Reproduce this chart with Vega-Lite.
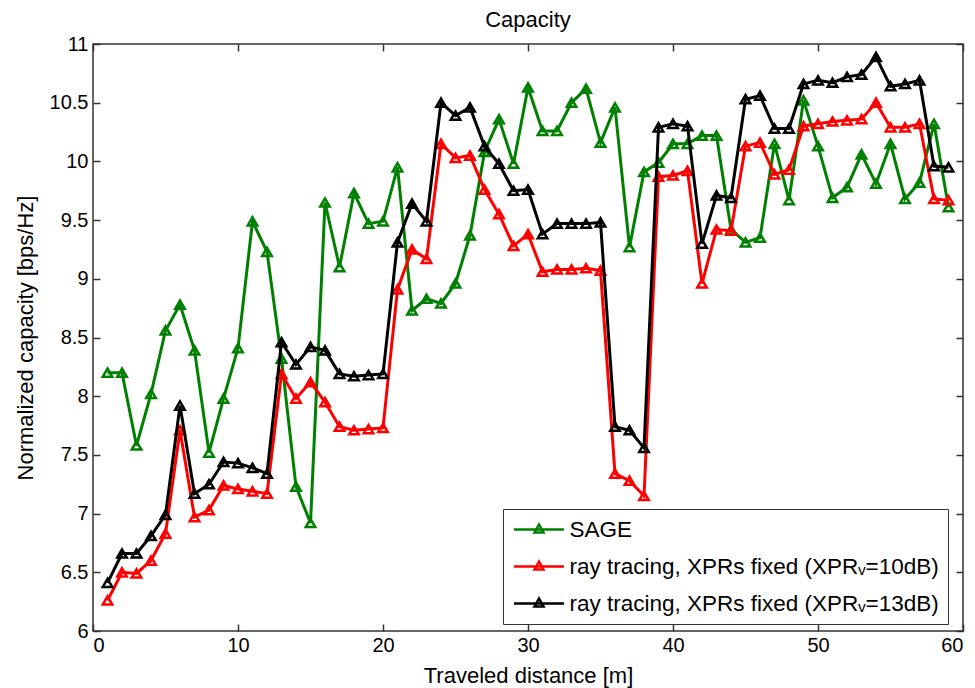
{
  "$schema": "https://vega.github.io/schema/vega-lite/v6.json",
  "width": 870,
  "height": 587,
  "autosize": {"type": "none"},
  "padding": {"left": 93, "top": 44, "right": 12, "bottom": 57},
  "background": "white",
  "config": {
    "font": "Liberation Sans",
    "view": {"stroke": "#333333", "strokeWidth": 1.5},
    "axis": {"grid": false, "domain": false, "tickColor": "#333333", "tickWidth": 1.5, "labelColor": "black", "titleColor": "black", "titleFontWeight": "normal"}
  },
  "title": {"text": "Capacity", "fontSize": 22, "fontWeight": "normal", "color": "black", "offset": 2},
  "data": {
    "values": [
      {"d": 1, "SAGE": 8.20, "RT10": 6.26, "RT13": 6.41},
      {"d": 2, "SAGE": 8.20, "RT10": 6.50, "RT13": 6.66},
      {"d": 3, "SAGE": 7.58, "RT10": 6.49, "RT13": 6.66},
      {"d": 4, "SAGE": 8.02, "RT10": 6.60, "RT13": 6.81},
      {"d": 5, "SAGE": 8.56, "RT10": 6.83, "RT13": 6.99},
      {"d": 6, "SAGE": 8.78, "RT10": 7.71, "RT13": 7.92},
      {"d": 7, "SAGE": 8.39, "RT10": 6.97, "RT13": 7.17},
      {"d": 8, "SAGE": 7.52, "RT10": 7.03, "RT13": 7.25},
      {"d": 9, "SAGE": 7.98, "RT10": 7.24, "RT13": 7.44},
      {"d": 10, "SAGE": 8.41, "RT10": 7.21, "RT13": 7.43},
      {"d": 11, "SAGE": 9.49, "RT10": 7.19, "RT13": 7.39},
      {"d": 12, "SAGE": 9.23, "RT10": 7.17, "RT13": 7.34},
      {"d": 13, "SAGE": 8.32, "RT10": 8.19, "RT13": 8.46},
      {"d": 14, "SAGE": 7.23, "RT10": 7.98, "RT13": 8.27},
      {"d": 15, "SAGE": 6.92, "RT10": 8.12, "RT13": 8.42},
      {"d": 16, "SAGE": 9.65, "RT10": 7.95, "RT13": 8.39},
      {"d": 17, "SAGE": 9.10, "RT10": 7.74, "RT13": 8.19},
      {"d": 18, "SAGE": 9.73, "RT10": 7.71, "RT13": 8.17},
      {"d": 19, "SAGE": 9.47, "RT10": 7.72, "RT13": 8.18},
      {"d": 20, "SAGE": 9.49, "RT10": 7.73, "RT13": 8.19},
      {"d": 21, "SAGE": 9.95, "RT10": 8.91, "RT13": 9.31},
      {"d": 22, "SAGE": 8.73, "RT10": 9.25, "RT13": 9.64},
      {"d": 23, "SAGE": 8.83, "RT10": 9.17, "RT13": 9.49},
      {"d": 24, "SAGE": 8.79, "RT10": 10.15, "RT13": 10.50},
      {"d": 25, "SAGE": 8.96, "RT10": 10.03, "RT13": 10.39},
      {"d": 26, "SAGE": 9.37, "RT10": 10.05, "RT13": 10.46},
      {"d": 27, "SAGE": 10.08, "RT10": 9.76, "RT13": 10.13},
      {"d": 28, "SAGE": 10.36, "RT10": 9.55, "RT13": 9.98},
      {"d": 29, "SAGE": 9.98, "RT10": 9.28, "RT13": 9.75},
      {"d": 30, "SAGE": 10.63, "RT10": 9.38, "RT13": 9.76},
      {"d": 31, "SAGE": 10.26, "RT10": 9.06, "RT13": 9.38},
      {"d": 32, "SAGE": 10.26, "RT10": 9.08, "RT13": 9.47},
      {"d": 33, "SAGE": 10.50, "RT10": 9.08, "RT13": 9.47},
      {"d": 34, "SAGE": 10.62, "RT10": 9.09, "RT13": 9.47},
      {"d": 35, "SAGE": 10.16, "RT10": 9.07, "RT13": 9.48},
      {"d": 36, "SAGE": 10.46, "RT10": 7.34, "RT13": 7.74},
      {"d": 37, "SAGE": 9.27, "RT10": 7.28, "RT13": 7.71},
      {"d": 38, "SAGE": 9.91, "RT10": 7.15, "RT13": 7.56},
      {"d": 39, "SAGE": 9.99, "RT10": 9.87, "RT13": 10.29},
      {"d": 40, "SAGE": 10.15, "RT10": 9.88, "RT13": 10.32},
      {"d": 41, "SAGE": 10.15, "RT10": 9.92, "RT13": 10.30},
      {"d": 42, "SAGE": 10.22, "RT10": 8.96, "RT13": 9.30},
      {"d": 43, "SAGE": 10.22, "RT10": 9.42, "RT13": 9.71},
      {"d": 44, "SAGE": 9.42, "RT10": 9.41, "RT13": 9.69},
      {"d": 45, "SAGE": 9.31, "RT10": 10.13, "RT13": 10.53},
      {"d": 46, "SAGE": 9.35, "RT10": 10.16, "RT13": 10.56},
      {"d": 47, "SAGE": 10.15, "RT10": 9.89, "RT13": 10.28},
      {"d": 48, "SAGE": 9.67, "RT10": 9.93, "RT13": 10.28},
      {"d": 49, "SAGE": 10.52, "RT10": 10.30, "RT13": 10.66},
      {"d": 50, "SAGE": 10.13, "RT10": 10.32, "RT13": 10.69},
      {"d": 51, "SAGE": 9.69, "RT10": 10.34, "RT13": 10.67},
      {"d": 52, "SAGE": 9.78, "RT10": 10.35, "RT13": 10.72},
      {"d": 53, "SAGE": 10.06, "RT10": 10.36, "RT13": 10.74},
      {"d": 54, "SAGE": 9.81, "RT10": 10.50, "RT13": 10.89},
      {"d": 55, "SAGE": 10.15, "RT10": 10.29, "RT13": 10.64},
      {"d": 56, "SAGE": 9.68, "RT10": 10.29, "RT13": 10.66},
      {"d": 57, "SAGE": 9.82, "RT10": 10.32, "RT13": 10.69},
      {"d": 58, "SAGE": 10.32, "RT10": 9.68, "RT13": 9.96},
      {"d": 59, "SAGE": 9.61, "RT10": 9.67, "RT13": 9.95}
    ]
  },
  "transform": [{"fold": ["SAGE", "RT10", "RT13"], "as": ["series", "capacity"]}],
  "encoding": {
    "color": {
      "field": "series",
      "type": "nominal",
      "scale": {"domain": ["SAGE", "RT10", "RT13"], "range": ["#008000", "#ff0000", "#000000"]},
      "legend": {
        "orient": "none",
        "legendX": 410,
        "legendY": 465,
        "title": null,
        "labelExpr": "datum.value == 'SAGE' ? 'SAGE' : datum.value == 'RT10' ? 'ray tracing, XPRs fixed (XPRᵥ=10dB)' : 'ray tracing, XPRs fixed (XPRᵥ=13dB)'",
        "symbolType": "M-2.5,0H2.5M-0.45,0.3L0,-0.5L0.45,0.3Z",
        "symbolSize": 400,
        "symbolStrokeWidth": 2.5,
        "symbolOffset": 15.5,
        "labelOffset": 19,
        "labelFontSize": 22.5,
        "labelColor": "black",
        "labelLimit": 600,
        "rowPadding": 14,
        "padding": 9,
        "strokeColor": "#333333",
        "fillColor": "white"
      }
    }
  },
  "layer": [
    {
      "transform": [{"filter": "datum.series == 'SAGE'"}],
      "mark": {"type": "line", "strokeWidth": 3, "point": {"shape": "triangle-up", "filled": false, "size": 90, "strokeWidth": 2.5, "color": "#008000"}},
      "encoding": {
        "x": {
          "field": "d", "type": "quantitative",
          "scale": {"domain": [0, 60], "nice": false, "zero": false},
          "axis": {"orient": "bottom", "values": [0, 10, 20, 30, 40, 50, 60], "tickSize": -7, "labelFontSize": 20, "labelPadding": 11, "title": "Traveled distance [m]", "titleFontSize": 22, "titlePadding": 10}
        },
        "y": {
          "field": "capacity", "type": "quantitative",
          "scale": {"domain": [6, 11], "nice": false, "zero": false},
          "axis": {"orient": "left", "values": [6, 6.5, 7, 7.5, 8, 8.5, 9, 9.5, 10, 10.5, 11], "format": "~g", "tickSize": -7, "labelFontSize": 20, "labelPadding": 12, "title": "Normalized capacity [bps/Hz]", "titleFontSize": 22, "titlePadding": 12}
        }
      }
    },
    {
      "transform": [{"filter": "datum.series == 'RT10'"}],
      "mark": {"type": "line", "strokeWidth": 3, "point": {"shape": "triangle-up", "filled": false, "size": 90, "strokeWidth": 2.5, "color": "#ff0000"}},
      "encoding": {
        "x": {"field": "d", "type": "quantitative", "axis": null},
        "y": {"field": "capacity", "type": "quantitative", "axis": null}
      }
    },
    {
      "transform": [{"filter": "datum.series == 'RT13'"}],
      "mark": {"type": "line", "strokeWidth": 3, "point": {"shape": "triangle-up", "filled": false, "size": 90, "strokeWidth": 2.5, "color": "#000000"}},
      "encoding": {
        "x": {"field": "d", "type": "quantitative", "axis": {"orient": "top", "values": [0, 10, 20, 30, 40, 50, 60], "tickSize": -7, "labels": false, "title": null}},
        "y": {"field": "capacity", "type": "quantitative", "axis": {"orient": "right", "values": [6, 6.5, 7, 7.5, 8, 8.5, 9, 9.5, 10, 10.5, 11], "tickSize": -7, "labels": false, "title": null}}
      }
    }
  ],
  "resolve": {"axis": {"x": "independent", "y": "independent"}}
}
